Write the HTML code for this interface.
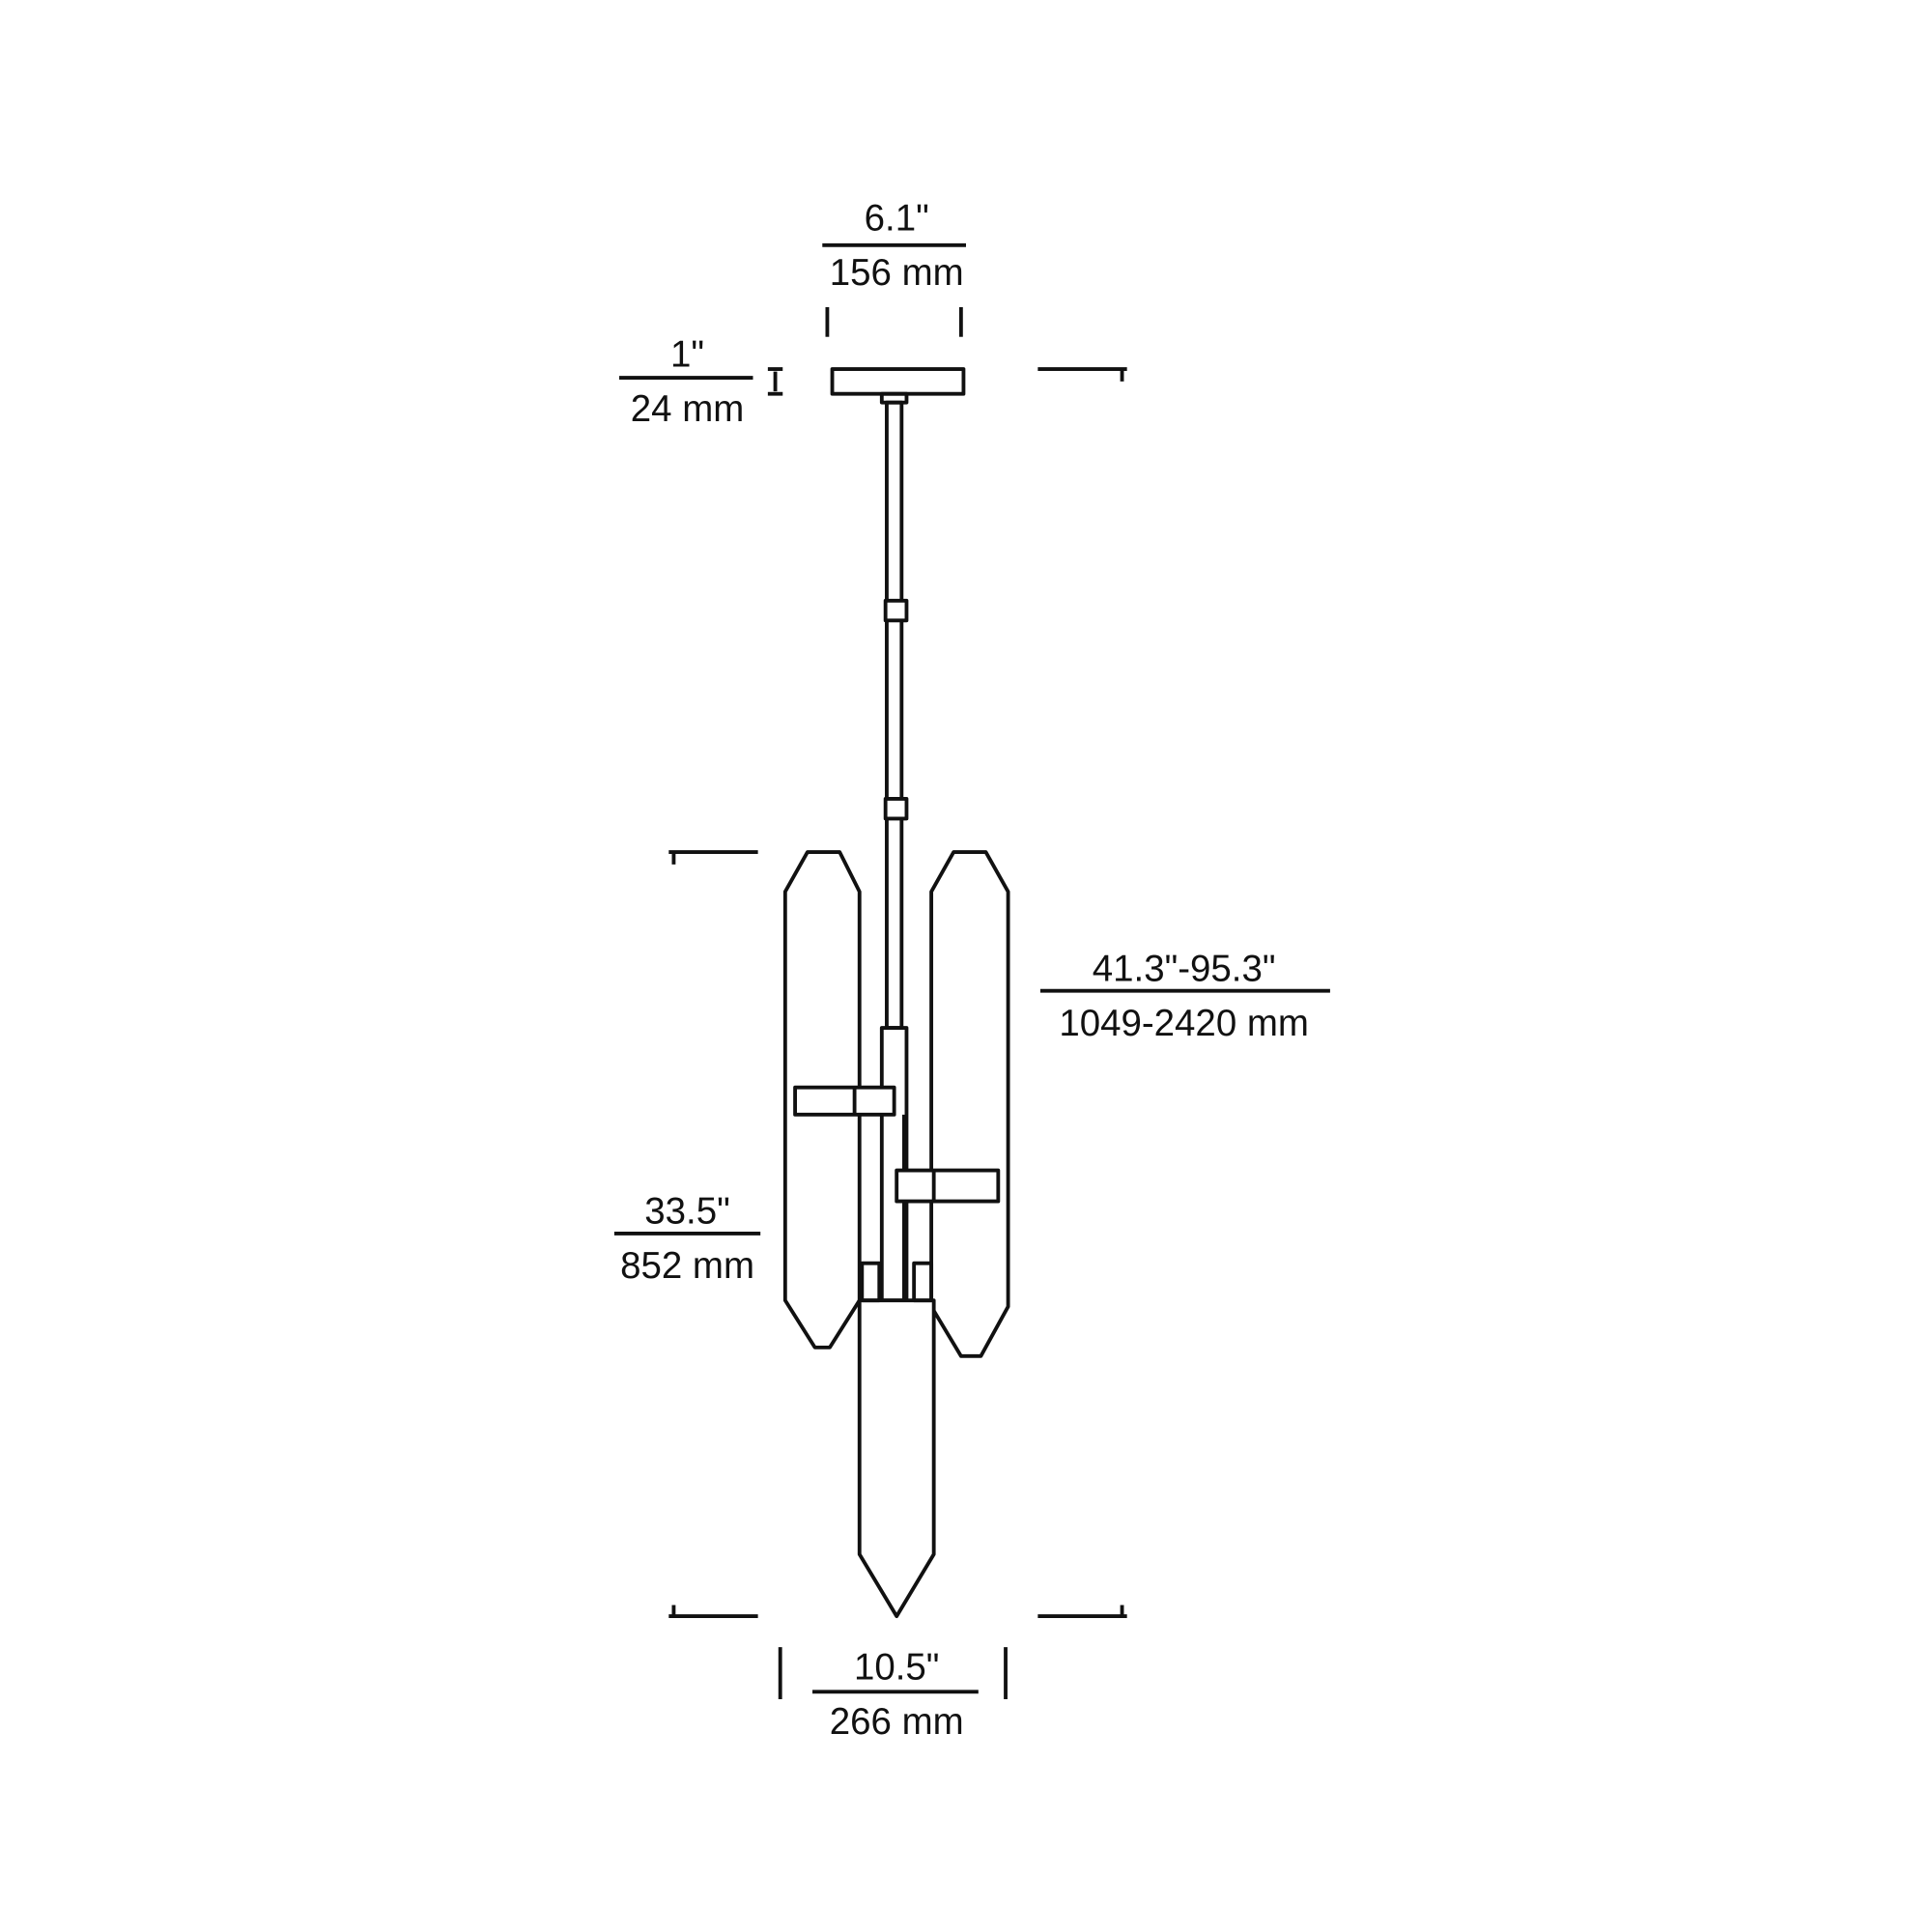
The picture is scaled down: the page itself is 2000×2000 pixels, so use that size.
<!DOCTYPE html>
<html><head><style>html,body{margin:0;padding:0;background:#fff}svg{display:block}</style></head>
<body>
<svg width="2000" height="2000" viewBox="0 0 1560 1560" xmlns="http://www.w3.org/2000/svg">
<g fill="none" stroke="#111" stroke-width="3" stroke-linejoin="round">
<!-- canopy -->
<rect x="672" y="298" width="106" height="20"/>
<rect x="712" y="318" width="20" height="7"/>
<!-- rod -->
<rect x="716" y="325" width="12" height="505"/>
<rect x="715" y="485" width="17" height="16" fill="#fff"/>
<rect x="715" y="645" width="17" height="16" fill="#fff"/>
<rect x="712" y="830" width="20" height="220"/>
<!-- left glass -->
<polygon points="652,688 678,688 694,720 694,1050 670,1088 658,1088 634,1050 634,720" fill="#fff"/>
<!-- right glass -->
<polygon points="770,688 796,688 814,720 814,1055 792,1095 776,1095 752,1055 752,720" fill="#fff"/>
<!-- center bottom glass -->
<polygon points="694,1050 754,1050 754,1255 724,1305 694,1255" fill="#fff"/>
<rect x="696" y="1020" width="14" height="30"/>
<rect x="738" y="1020" width="14" height="30"/>
<line x1="730" y1="900" x2="730" y2="1050"/>
<!-- bands -->
<rect x="642" y="878" width="80" height="22" fill="#fff"/>
<line x1="690" y1="878" x2="690" y2="900"/>
<rect x="724" y="945" width="82" height="25" fill="#fff"/>
<line x1="754" y1="945" x2="754" y2="970"/>
<!-- dimension lines -->
<line x1="664" y1="198" x2="780" y2="198"/>
<line x1="668" y1="248" x2="668" y2="272"/><line x1="776" y1="248" x2="776" y2="272"/>
<line x1="500" y1="305" x2="608" y2="305"/>
<line x1="620" y1="298" x2="632" y2="298"/><line x1="620" y1="318" x2="632" y2="318"/><line x1="626" y1="300" x2="626" y2="316"/>
<line x1="838" y1="298" x2="910" y2="298"/><line x1="906" y1="298" x2="906" y2="308"/>
<line x1="540" y1="688" x2="612" y2="688"/><line x1="544" y1="688" x2="544" y2="698"/>
<line x1="840" y1="800" x2="1074" y2="800"/>
<line x1="496" y1="996" x2="614" y2="996"/>
<line x1="540" y1="1305" x2="612" y2="1305"/><line x1="544" y1="1296" x2="544" y2="1305"/>
<line x1="838" y1="1305" x2="910" y2="1305"/><line x1="906" y1="1296" x2="906" y2="1305"/>
<line x1="630" y1="1330" x2="630" y2="1372"/><line x1="812" y1="1330" x2="812" y2="1372"/>
<line x1="656" y1="1366" x2="790" y2="1366"/>
</g>
<g font-family="Liberation Sans, sans-serif" font-size="30" fill="#111" text-anchor="middle">
<text x="724" y="186">6.1"</text>
<text x="724" y="230">156 mm</text>
<text x="555" y="296">1"</text>
<text x="555" y="340">24 mm</text>
<text x="956" y="792">41.3"-95.3"</text>
<text x="956" y="836">1049-2420 mm</text>
<text x="555" y="988">33.5"</text>
<text x="555" y="1032">852 mm</text>
<text x="724" y="1356">10.5"</text>
<text x="724" y="1400">266 mm</text>
</g>
</svg>
</body></html>
